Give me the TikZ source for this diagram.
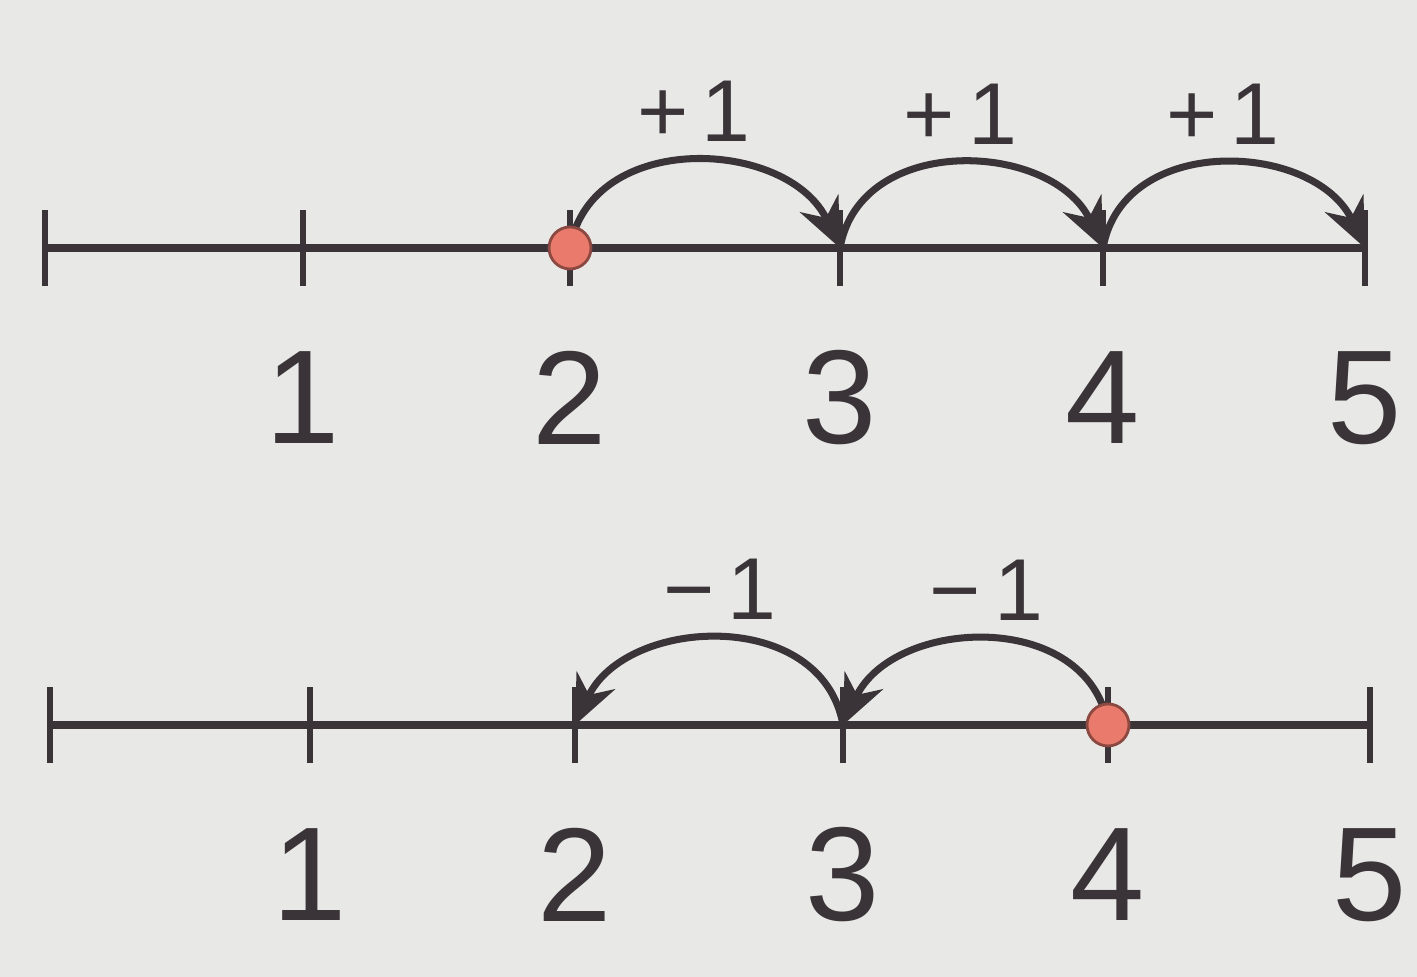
\documentclass[tikz,border=0pt]{standalone}
\usepackage{fontspec}
\setmainfont{Liberation Sans}
\usetikzlibrary{arrows.meta,positioning}
\definecolor{ink}{RGB}{58,52,56}
\definecolor{dotred}{RGB}{234,122,108}
\definecolor{paper}{RGB}{232,232,230}

\begin{document}
\begin{tikzpicture}[
        axis/.style={ink, line width=2.4pt},
        tickmark/.style={ink, line width=1.6pt},
        hop/.style={ink, line width=2pt, -{Stealth[length=14pt,width=12pt]}},
        num/.style={font=\fontsize{38}{38}\selectfont, text=ink},
        jump/.style={font=\fontsize{25}{25}\selectfont, text=ink},
        spot/.style={circle, fill=dotred, draw=dotred!60!black, line width=0.8pt, minimum size=0.42cm, inner sep=0pt}
    ]
    \useasboundingbox (0,0) rectangle (14.17,9.77);
    \fill[paper] (0,0) rectangle (14.17,9.77);

    % Top number line
    \foreach \x [count=\i from 0] in {0.45,3.03,5.70,8.40,11.03,13.65}
        \coordinate (t\i) at (\x,7.29);
    \draw[axis] (t0) -- (t5);
    \foreach \i in {0,...,5}
        \draw[tickmark] ([yshift=-0.38cm]t\i) -- ([yshift=0.38cm]t\i);
    \foreach \i in {1,...,5}
        \node[num] (tn\i) at ([yshift=-1.5cm]t\i) {\i};

    % Jumps forward
    \draw[hop] (t2) to[out=80,in=115,looseness=1.15] node[jump, midway, above=0.05cm] (tp1) {+\kern0.15em1} (t3);
    \draw[hop] (t3) to[out=80,in=115,looseness=1.15] node[jump, midway, above=0.05cm] (tp2) {+\kern0.15em1} (t4);
    \draw[hop] (t4) to[out=80,in=115,looseness=1.15] node[jump, midway, above=0.05cm] (tp3) {+\kern0.15em1} (t5);
    \node[spot] (ts) at (t2) {};

    % Bottom number line
    \foreach \x [count=\i from 0] in {0.50,3.10,5.75,8.43,11.08,13.70}
        \coordinate (b\i) at (\x,2.52);
    \draw[axis] (b0) -- (b5);
    \foreach \i in {0,...,5}
        \draw[tickmark] ([yshift=-0.38cm]b\i) -- ([yshift=0.38cm]b\i);
    \foreach \i in {1,...,5}
        \node[num] (bn\i) at ([yshift=-1.5cm]b\i) {\i};

    % Jumps back
    \draw[hop] (b4) to[out=100,in=65,looseness=1.15] node[jump, midway, above=0.05cm] (bm1) {−\kern0.15em1} (b3);
    \draw[hop] (b3) to[out=100,in=65,looseness=1.15] node[jump, midway, above=0.05cm] (bm2) {−\kern0.15em1} (b2);
    \node[spot] (bs) at (b4) {};

\end{tikzpicture}
\end{document}
